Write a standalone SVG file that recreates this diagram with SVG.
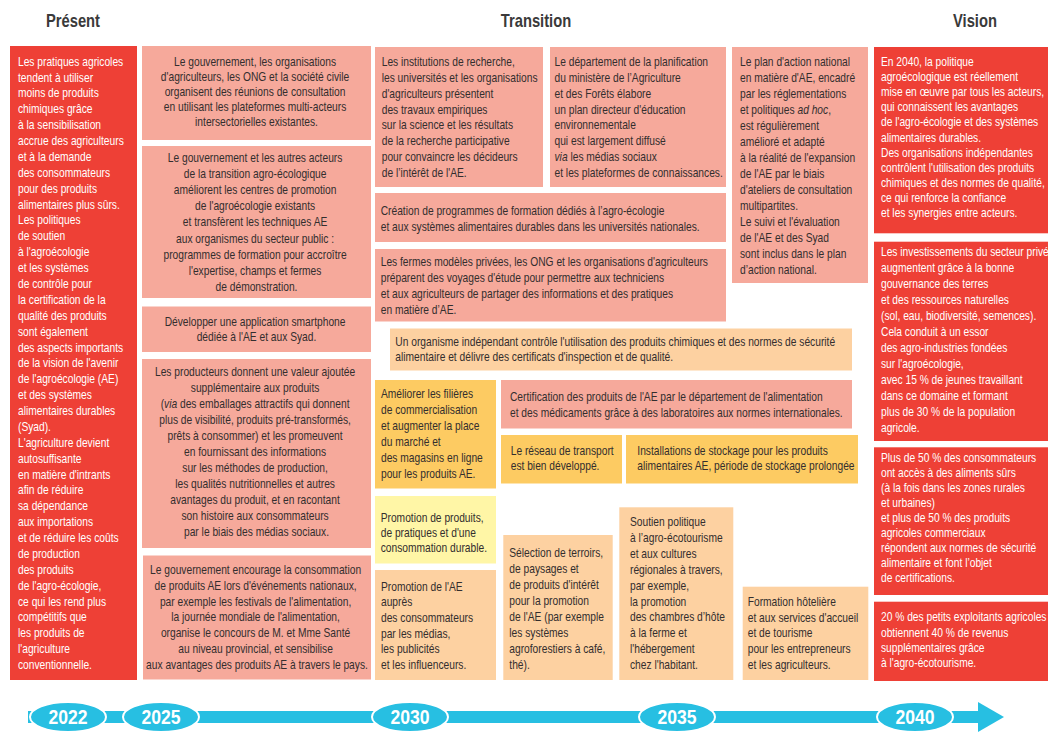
<svg xmlns="http://www.w3.org/2000/svg" width="1050" height="735" viewBox="0 0 1050 735">
<style>
  .t { font-family: "Liberation Sans", Arial, sans-serif; font-size: 13.4px; fill: #332e2e; }
  .w { fill: #ffffff; }
  .c { text-anchor: middle; }
  .h { font-family: "Liberation Sans", Arial, sans-serif; font-size: 18px; font-weight: bold; fill: #3a3a3a; text-anchor: middle; }
  .red { fill: #ee4036; }
  .pink { fill: #f6a99b; }
  .peach { fill: #fdd1a1; }
  .yel { fill: #fdcb62; }
  .ly { fill: #fff6a6; }
  .yr { font-family: "Liberation Sans", Arial, sans-serif; font-size: 20px; font-weight: bold; fill: #ffffff; text-anchor: middle; }
</style>
<rect width="1050" height="735" fill="#ffffff"/>
<g id="headers">
  <text class="h" x="73" y="27" transform="translate(73 0) scale(0.82 1) translate(-73 0)">Présent</text>
  <text class="h" x="536" y="27" transform="translate(536 0) scale(0.82 1) translate(-536 0)">Transition</text>
  <text class="h" x="975" y="27" transform="translate(975 0) scale(0.82 1) translate(-975 0)">Vision</text>
</g>

<g id="present">
  <rect class="red" x="10" y="46" width="127" height="634"/>
  <text class="t w" x="18" y="65.7" transform="translate(18 0) scale(0.765 1) translate(-18 0)">
    <tspan x="18" dy="0">Les pratiques agricoles</tspan>
    <tspan x="18" dy="15.88">tendent à utiliser</tspan>
    <tspan x="18" dy="15.88">moins de produits</tspan>
    <tspan x="18" dy="15.88">chimiques grâce</tspan>
    <tspan x="18" dy="15.88">à la sensibilisation</tspan>
    <tspan x="18" dy="15.88">accrue des agriculteurs</tspan>
    <tspan x="18" dy="15.88">et à la demande</tspan>
    <tspan x="18" dy="15.88">des consommateurs</tspan>
    <tspan x="18" dy="15.88">pour des produits</tspan>
    <tspan x="18" dy="15.88">alimentaires plus sûrs.</tspan>
    <tspan x="18" dy="15.88">Les politiques</tspan>
    <tspan x="18" dy="15.88">de soutien</tspan>
    <tspan x="18" dy="15.88">à l'agroécologie</tspan>
    <tspan x="18" dy="15.88">et les systèmes</tspan>
    <tspan x="18" dy="15.88">de contrôle pour</tspan>
    <tspan x="18" dy="15.88">la certification de la</tspan>
    <tspan x="18" dy="15.88">qualité des produits</tspan>
    <tspan x="18" dy="15.88">sont également</tspan>
    <tspan x="18" dy="15.88">des aspects importants</tspan>
    <tspan x="18" dy="15.88">de la vision de l'avenir</tspan>
    <tspan x="18" dy="15.88">de l'agroécologie (AE)</tspan>
    <tspan x="18" dy="15.88">et des systèmes</tspan>
    <tspan x="18" dy="15.88">alimentaires durables</tspan>
    <tspan x="18" dy="15.88">(Syad).</tspan>
    <tspan x="18" dy="15.88">L'agriculture devient</tspan>
    <tspan x="18" dy="15.88">autosuffisante</tspan>
    <tspan x="18" dy="15.88">en matière d'intrants</tspan>
    <tspan x="18" dy="15.88">afin de réduire</tspan>
    <tspan x="18" dy="15.88">sa dépendance</tspan>
    <tspan x="18" dy="15.88">aux importations</tspan>
    <tspan x="18" dy="15.88">et de réduire les coûts</tspan>
    <tspan x="18" dy="15.88">de production</tspan>
    <tspan x="18" dy="15.88">des produits</tspan>
    <tspan x="18" dy="15.88">de l'agro-écologie,</tspan>
    <tspan x="18" dy="15.88">ce qui les rend plus</tspan>
    <tspan x="18" dy="15.88">compétitifs que</tspan>
    <tspan x="18" dy="15.88">les produits de</tspan>
    <tspan x="18" dy="15.88">l'agriculture</tspan>
    <tspan x="18" dy="15.88">conventionnelle.</tspan>
  </text>
</g>

<g id="n-consultation">
  <rect class="pink" x="142" y="46" width="229" height="94"/>
  <text class="t c" x="256.5" y="65.7" transform="translate(256.5 0) scale(0.765 1) translate(-256.5 0)">
    <tspan x="256.5" dy="0">Le gouvernement, les organisations</tspan>
    <tspan x="256.5" dy="15">d'agriculteurs, les ONG et la société civile</tspan>
    <tspan x="256.5" dy="15">organisent des réunions de consultation</tspan>
    <tspan x="256.5" dy="15">en utilisant les plateformes multi-acteurs</tspan>
    <tspan x="256.5" dy="15">intersectorielles existantes.</tspan>
  </text>
</g>

<g id="n-centres">
  <rect class="pink" x="142" y="146" width="229" height="152"/>
  <text class="t c" x="256.5" y="162.3" transform="translate(256.5 0) scale(0.765 1) translate(-256.5 0)">
    <tspan x="256.5" dy="0">Le gouvernement et les autres acteurs</tspan>
    <tspan x="256.5" dy="16.05">de la transition agro-écologique</tspan>
    <tspan x="256.5" dy="16.05">améliorent les centres de promotion</tspan>
    <tspan x="256.5" dy="16.05">de l'agroécologie existants</tspan>
    <tspan x="256.5" dy="16.05">et transfèrent les techniques AE</tspan>
    <tspan x="256.5" dy="16.05">aux organismes du secteur public :</tspan>
    <tspan x="256.5" dy="16.05">programmes de formation pour accroître</tspan>
    <tspan x="256.5" dy="16.05">l'expertise, champs et fermes</tspan>
    <tspan x="256.5" dy="16.05">de démonstration.</tspan>
  </text>
</g>

<g id="n-app">
  <rect class="pink" x="142" y="306.5" width="229" height="45.5"/>
  <text class="t c" x="256.5" y="326.3" transform="translate(256.5 0) scale(0.765 1) translate(-256.5 0)">
    <tspan x="256.5" dy="0">Développer une application smartphone</tspan>
    <tspan x="256.5" dy="15">dédiée à l'AE et aux Syad.</tspan>
  </text>
</g>

<g id="n-producteurs">
  <rect class="pink" x="142" y="359" width="229" height="189"/>
  <text class="t c" x="256.5" y="376.3" transform="translate(256.5 0) scale(0.765 1) translate(-256.5 0)">
    <tspan x="256.5" dy="0">Les producteurs donnent une valeur ajoutée</tspan>
    <tspan x="256.5" dy="16">supplémentaire aux produits</tspan>
    <tspan x="256.5" dy="16">(<tspan font-style="italic">via</tspan> des emballages attractifs qui donnent</tspan>
    <tspan x="256.5" dy="16">plus de visibilité, produits pré-transformés,</tspan>
    <tspan x="256.5" dy="16">prêts à consommer) et les promeuvent</tspan>
    <tspan x="256.5" dy="16">en fournissant des informations</tspan>
    <tspan x="256.5" dy="16">sur les méthodes de production,</tspan>
    <tspan x="256.5" dy="16">les qualités nutritionnelles et autres</tspan>
    <tspan x="256.5" dy="16">avantages du produit, et en racontant</tspan>
    <tspan x="256.5" dy="16">son histoire aux consommateurs</tspan>
    <tspan x="256.5" dy="16">par le biais des médias sociaux.</tspan>
  </text>
</g>

<g id="n-evenements">
  <rect class="pink" x="143" y="555.5" width="228" height="124"/>
  <text class="t c" x="257" y="574" transform="translate(257 0) scale(0.765 1) translate(-257 0)">
    <tspan x="257" dy="0">Le gouvernement encourage la consommation</tspan>
    <tspan x="257" dy="15.83">de produits AE lors d'événements nationaux,</tspan>
    <tspan x="257" dy="15.83">par exemple les festivals de l'alimentation,</tspan>
    <tspan x="257" dy="15.83">la journée mondiale de l'alimentation,</tspan>
    <tspan x="257" dy="15.83">organise le concours de M. et Mme Santé</tspan>
    <tspan x="257" dy="15.83">au niveau provincial, et sensibilise</tspan>
    <tspan x="257" dy="15.83">aux avantages des produits AE à travers le pays.</tspan>
  </text>
</g>

<g id="n-recherche">
  <rect class="pink" x="375" y="47" width="168" height="140"/>
  <text class="t" x="381.7" y="65.7" transform="translate(381.7 0) scale(0.765 1) translate(-381.7 0)">
    <tspan x="381.7" dy="0">Les institutions de recherche,</tspan>
    <tspan x="381.7" dy="15.95">les universités et les organisations</tspan>
    <tspan x="381.7" dy="15.95">d'agriculteurs présentent</tspan>
    <tspan x="381.7" dy="15.95">des travaux empiriques</tspan>
    <tspan x="381.7" dy="15.95">sur la science et les résultats</tspan>
    <tspan x="381.7" dy="15.95">de la recherche participative</tspan>
    <tspan x="381.7" dy="15.95">pour convaincre les décideurs</tspan>
    <tspan x="381.7" dy="15.95">de l’intérêt de l'AE.</tspan>
  </text>
</g>

<g id="n-planification">
  <rect class="pink" x="550" y="47" width="176" height="140"/>
  <text class="t" x="554.5" y="65.7" transform="translate(554.5 0) scale(0.765 1) translate(-554.5 0)">
    <tspan x="554.5" dy="0">Le département de la planification</tspan>
    <tspan x="554.5" dy="15.95">du ministère de l’Agriculture</tspan>
    <tspan x="554.5" dy="15.95">et des Forêts élabore</tspan>
    <tspan x="554.5" dy="15.95">un plan directeur d'éducation</tspan>
    <tspan x="554.5" dy="15.95">environnementale</tspan>
    <tspan x="554.5" dy="15.95">qui est largement diffusé</tspan>
    <tspan x="554.5" dy="15.95"><tspan font-style="italic">via</tspan> les médias sociaux</tspan>
    <tspan x="554.5" dy="15.95">et les plateformes de connaissances.</tspan>
  </text>
</g>

<g id="n-plan-action">
  <rect class="pink" x="732" y="47" width="136" height="236"/>
  <text class="t" x="740" y="65.7" transform="translate(740 0) scale(0.765 1) translate(-740 0)">
    <tspan x="740" dy="0">Le plan d'action national</tspan>
    <tspan x="740" dy="16">en matière d'AE, encadré</tspan>
    <tspan x="740" dy="16">par les réglementations</tspan>
    <tspan x="740" dy="16">et politiques <tspan font-style="italic">ad hoc</tspan>,</tspan>
    <tspan x="740" dy="16">est régulièrement</tspan>
    <tspan x="740" dy="16">amélioré et adapté</tspan>
    <tspan x="740" dy="16">à la réalité de l'expansion</tspan>
    <tspan x="740" dy="16">de l'AE par le biais</tspan>
    <tspan x="740" dy="16">d'ateliers de consultation</tspan>
    <tspan x="740" dy="16">multipartites.</tspan>
    <tspan x="740" dy="16">Le suivi et l'évaluation</tspan>
    <tspan x="740" dy="16">de l'AE et des Syad</tspan>
    <tspan x="740" dy="16">sont inclus dans le plan</tspan>
    <tspan x="740" dy="16">d’action national.</tspan>
  </text>
</g>

<g id="n-formation-univ">
  <rect class="pink" x="375" y="193" width="351" height="49"/>
  <text class="t" x="380.7" y="214.7" transform="translate(380.7 0) scale(0.765 1) translate(-380.7 0)">
    <tspan x="380.7" dy="0">Création de programmes de formation dédiés à l’agro-écologie</tspan>
    <tspan x="380.7" dy="16.6">et aux systèmes alimentaires durables dans les universités nationales.</tspan>
  </text>
</g>

<g id="n-fermes">
  <rect class="pink" x="375" y="249" width="351" height="72.5"/>
  <text class="t" x="380.7" y="265.7" transform="translate(380.7 0) scale(0.765 1) translate(-380.7 0)">
    <tspan x="380.7" dy="0">Les fermes modèles privées, les ONG et les organisations d'agriculteurs</tspan>
    <tspan x="380.7" dy="16.1">préparent des voyages d'étude pour permettre aux techniciens</tspan>
    <tspan x="380.7" dy="16.1">et aux agriculteurs de partager des informations et des pratiques</tspan>
    <tspan x="380.7" dy="16.1">en matière d’AE.</tspan>
  </text>
</g>

<g id="n-organisme">
  <rect class="peach" x="390" y="328.5" width="462" height="42"/>
  <text class="t" x="395.3" y="345.7" transform="translate(395.3 0) scale(0.765 1) translate(-395.3 0)">
    <tspan x="395.3" dy="0">Un organisme indépendant contrôle l'utilisation des produits chimiques et des normes de sécurité</tspan>
    <tspan x="395.3" dy="15.6">alimentaire et délivre des certificats d'inspection et de qualité.</tspan>
  </text>
</g>

<g id="n-filieres">
  <rect class="yel" x="375" y="380" width="121" height="108.5"/>
  <text class="t" x="381" y="398" transform="translate(381 0) scale(0.765 1) translate(-381 0)">
    <tspan x="381" dy="0">Améliorer les filières</tspan>
    <tspan x="381" dy="16.07">de commercialisation</tspan>
    <tspan x="381" dy="16.07">et augmenter la place</tspan>
    <tspan x="381" dy="16.07">du marché et</tspan>
    <tspan x="381" dy="16.07">des magasins en ligne</tspan>
    <tspan x="381" dy="16.07">pour les produits AE.</tspan>
  </text>
</g>

<g id="n-certification">
  <rect class="pink" x="501" y="380" width="351" height="48.5"/>
  <text class="t" x="510" y="401.3" transform="translate(510 0) scale(0.765 1) translate(-510 0)">
    <tspan x="510" dy="0">Certification des produits de l'AE par le département de l'alimentation</tspan>
    <tspan x="510" dy="16">et des médicaments grâce à des laboratoires aux normes internationales.</tspan>
  </text>
</g>

<g id="n-transport">
  <rect class="yel" x="501" y="435" width="121" height="48.5"/>
  <text class="t" x="510.7" y="454.7" transform="translate(510.7 0) scale(0.765 1) translate(-510.7 0)">
    <tspan x="510.7" dy="0">Le réseau de transport</tspan>
    <tspan x="510.7" dy="15.3">est bien développé.</tspan>
  </text>
</g>

<g id="n-stockage">
  <rect class="yel" x="626" y="435" width="232" height="48.5"/>
  <text class="t" x="637.3" y="454.7" transform="translate(637.3 0) scale(0.765 1) translate(-637.3 0)">
    <tspan x="637.3" dy="0">Installations de stockage pour les produits</tspan>
    <tspan x="637.3" dy="15.3">alimentaires AE, période de stockage prolongée</tspan>
  </text>
</g>

<g id="n-promotion-produits">
  <rect class="ly" x="375" y="496" width="121" height="67.5"/>
  <text class="t" x="380.7" y="522.3" transform="translate(380.7 0) scale(0.765 1) translate(-380.7 0)">
    <tspan x="380.7" dy="0">Promotion de produits,</tspan>
    <tspan x="380.7" dy="15">de pratiques et d'une</tspan>
    <tspan x="380.7" dy="15">consommation durable.</tspan>
  </text>
</g>

<g id="n-promotion-ae">
  <rect class="peach" x="375" y="570" width="121" height="110"/>
  <text class="t" x="381" y="590.7" transform="translate(381 0) scale(0.765 1) translate(-381 0)">
    <tspan x="381" dy="0">Promotion de l'AE</tspan>
    <tspan x="381" dy="15.67">auprès</tspan>
    <tspan x="381" dy="15.67">des consommateurs</tspan>
    <tspan x="381" dy="15.67">par les médias,</tspan>
    <tspan x="381" dy="15.67">les publicités</tspan>
    <tspan x="381" dy="15.67">et les influenceurs.</tspan>
  </text>
</g>

<g id="n-terroirs">
  <rect class="peach" x="503.3" y="535" width="109.4" height="145"/>
  <text class="t" x="509.3" y="557.3" transform="translate(509.3 0) scale(0.765 1) translate(-509.3 0)">
    <tspan x="509.3" dy="0">Sélection de terroirs,</tspan>
    <tspan x="509.3" dy="15.95">de paysages et</tspan>
    <tspan x="509.3" dy="15.95">de produits d'intérêt</tspan>
    <tspan x="509.3" dy="15.95">pour la promotion</tspan>
    <tspan x="509.3" dy="15.95">de l'AE (par exemple</tspan>
    <tspan x="509.3" dy="15.95">les systèmes</tspan>
    <tspan x="509.3" dy="15.95">agroforestiers à café,</tspan>
    <tspan x="509.3" dy="15.95">thé).</tspan>
  </text>
</g>

<g id="n-soutien">
  <rect class="peach" x="619.3" y="507.3" width="114" height="172.7"/>
  <text class="t" x="630" y="526.3" transform="translate(630 0) scale(0.765 1) translate(-630 0)">
    <tspan x="630" dy="0">Soutien politique</tspan>
    <tspan x="630" dy="15.85">à l’agro-écotourisme</tspan>
    <tspan x="630" dy="15.85">et aux cultures</tspan>
    <tspan x="630" dy="15.85">régionales à travers,</tspan>
    <tspan x="630" dy="15.85">par exemple,</tspan>
    <tspan x="630" dy="15.85">la promotion</tspan>
    <tspan x="630" dy="15.85">des chambres d’hôte</tspan>
    <tspan x="630" dy="15.85">à la ferme et</tspan>
    <tspan x="630" dy="15.85">l'hébergement</tspan>
    <tspan x="630" dy="15.85">chez l'habitant.</tspan>
  </text>
</g>

<g id="n-hotellerie">
  <rect class="peach" x="742.7" y="586.7" width="125.6" height="93.3"/>
  <text class="t" x="747.7" y="605.7" transform="translate(747.7 0) scale(0.765 1) translate(-747.7 0)">
    <tspan x="747.7" dy="0">Formation hôtelière</tspan>
    <tspan x="747.7" dy="15.83">et aux services d'accueil</tspan>
    <tspan x="747.7" dy="15.83">et de tourisme</tspan>
    <tspan x="747.7" dy="15.83">pour les entrepreneurs</tspan>
    <tspan x="747.7" dy="15.83">et les agriculteurs.</tspan>
  </text>
</g>

<g id="v-politique">
  <rect class="red" x="874" y="47" width="174" height="186.3"/>
  <text class="t w" x="881" y="65.7" transform="translate(881 0) scale(0.765 1) translate(-881 0)">
    <tspan x="881" dy="0">En 2040, la politique</tspan>
    <tspan x="881" dy="15.17">agroécologique est réellement</tspan>
    <tspan x="881" dy="15.17">mise en œuvre par tous les acteurs,</tspan>
    <tspan x="881" dy="15.17">qui connaissent les avantages</tspan>
    <tspan x="881" dy="15.17">de l'agro-écologie et des systèmes</tspan>
    <tspan x="881" dy="15.17">alimentaires durables.</tspan>
    <tspan x="881" dy="15.17">Des organisations indépendantes</tspan>
    <tspan x="881" dy="15.17">contrôlent l'utilisation des produits</tspan>
    <tspan x="881" dy="15.17">chimiques et des normes de qualité,</tspan>
    <tspan x="881" dy="15.17">ce qui renforce la confiance</tspan>
    <tspan x="881" dy="15.17">et les synergies entre acteurs.</tspan>
  </text>
</g>

<g id="v-investissements">
  <rect class="red" x="874" y="241.7" width="174" height="199.3"/>
  <text class="t w" x="881" y="255.7" transform="translate(881 0) scale(0.765 1) translate(-881 0)">
    <tspan x="881" dy="0">Les investissements du secteur privé</tspan>
    <tspan x="881" dy="16.06">augmentent grâce à la bonne</tspan>
    <tspan x="881" dy="16.06">gouvernance des terres</tspan>
    <tspan x="881" dy="16.06">et des ressources naturelles</tspan>
    <tspan x="881" dy="16.06">(sol, eau, biodiversité, semences).</tspan>
    <tspan x="881" dy="16.06">Cela conduit à un essor</tspan>
    <tspan x="881" dy="16.06">des agro-industries fondées</tspan>
    <tspan x="881" dy="16.06">sur l'agroécologie,</tspan>
    <tspan x="881" dy="16.06">avec 15 % de jeunes travaillant</tspan>
    <tspan x="881" dy="16.06">dans ce domaine et formant</tspan>
    <tspan x="881" dy="16.06">plus de 30 % de la population</tspan>
    <tspan x="881" dy="16.06">agricole.</tspan>
  </text>
</g>

<g id="v-consommateurs">
  <rect class="red" x="874" y="447.3" width="174" height="147.7"/>
  <text class="t w" x="881" y="462.3" transform="translate(881 0) scale(0.765 1) translate(-881 0)">
    <tspan x="881" dy="0">Plus de 50 % des consommateurs</tspan>
    <tspan x="881" dy="15">ont accès à des aliments sûrs</tspan>
    <tspan x="881" dy="15">(à la fois dans les zones rurales</tspan>
    <tspan x="881" dy="15">et urbaines)</tspan>
    <tspan x="881" dy="15">et plus de 50 % des produits</tspan>
    <tspan x="881" dy="15">agricoles commerciaux</tspan>
    <tspan x="881" dy="15">répondent aux normes de sécurité</tspan>
    <tspan x="881" dy="15">alimentaire et font l’objet</tspan>
    <tspan x="881" dy="15">de certifications.</tspan>
  </text>
</g>

<g id="v-agrotourisme">
  <rect class="red" x="874" y="601.7" width="174" height="79.3"/>
  <text class="t w" x="881" y="621.3" transform="translate(881 0) scale(0.765 1) translate(-881 0)">
    <tspan x="881" dy="0">20 % des petits exploitants agricoles</tspan>
    <tspan x="881" dy="15.33">obtiennent 40 % de revenus</tspan>
    <tspan x="881" dy="15.33">supplémentaires grâce</tspan>
    <tspan x="881" dy="15.33">à l'agro-écotourisme.</tspan>
  </text>
</g>

<g id="timeline">
  <rect x="28" y="711" width="955" height="12" fill="#27bfe2"/>
  <polygon points="978,702 1004,717 978,732" fill="#27bfe2"/>
  <ellipse cx="68" cy="717" rx="38" ry="15" fill="#27bfe2" stroke="#ffffff" stroke-width="2"/>
  <ellipse cx="161" cy="717" rx="38" ry="15" fill="#27bfe2" stroke="#ffffff" stroke-width="2"/>
  <ellipse cx="410" cy="717" rx="38" ry="15" fill="#27bfe2" stroke="#ffffff" stroke-width="2"/>
  <ellipse cx="677" cy="717" rx="38" ry="15" fill="#27bfe2" stroke="#ffffff" stroke-width="2"/>
  <ellipse cx="915" cy="717" rx="38" ry="15" fill="#27bfe2" stroke="#ffffff" stroke-width="2"/>
  <text class="yr" x="68" y="724" transform="translate(68 0) scale(0.88 1) translate(-68 0)">2022</text>
  <text class="yr" x="161" y="724" transform="translate(161 0) scale(0.88 1) translate(-161 0)">2025</text>
  <text class="yr" x="410" y="724" transform="translate(410 0) scale(0.88 1) translate(-410 0)">2030</text>
  <text class="yr" x="677" y="724" transform="translate(677 0) scale(0.88 1) translate(-677 0)">2035</text>
  <text class="yr" x="915" y="724" transform="translate(915 0) scale(0.88 1) translate(-915 0)">2040</text>
</g>
</svg>
